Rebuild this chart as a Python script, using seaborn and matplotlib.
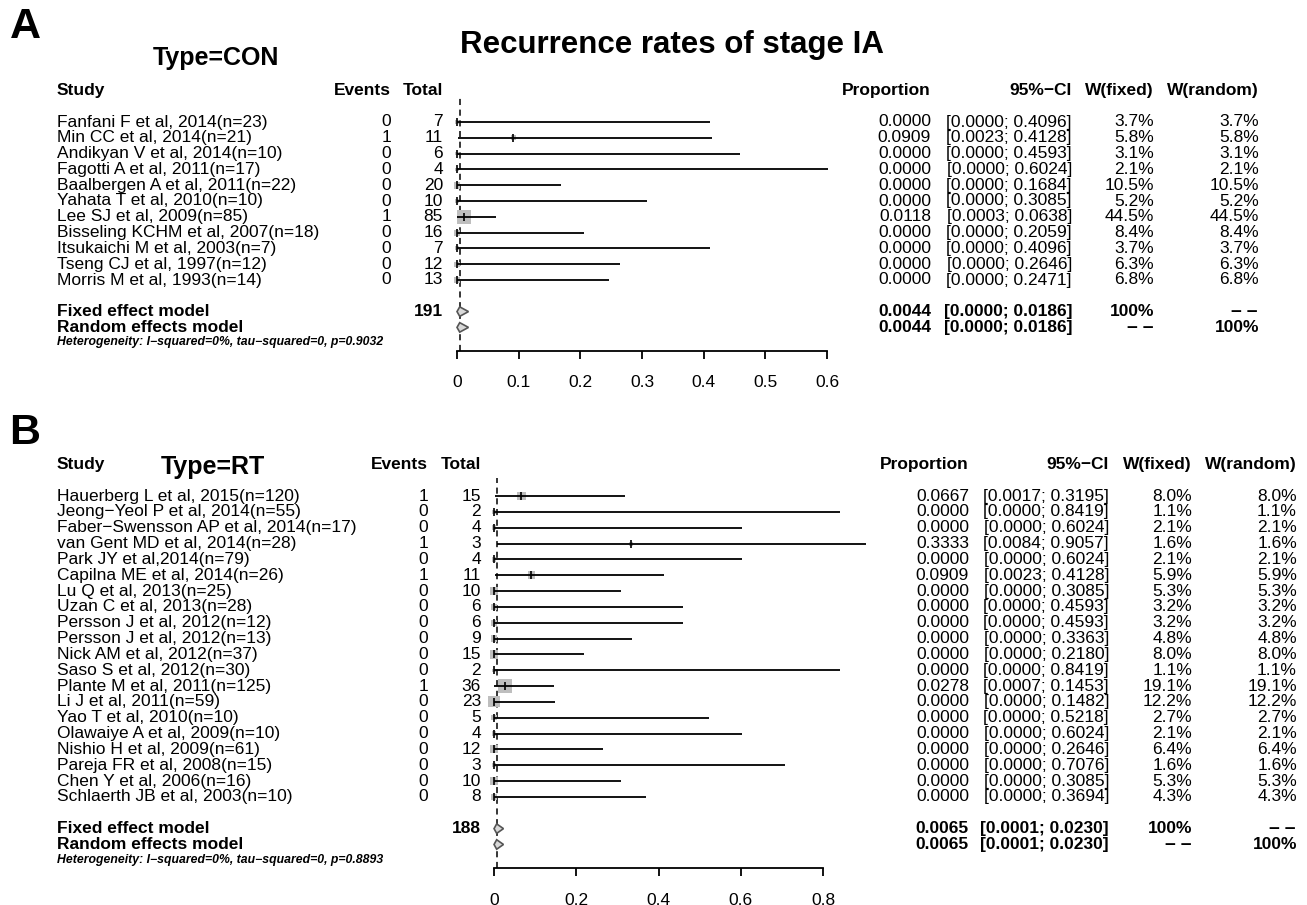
import numpy as np
import pandas as pd
import matplotlib
matplotlib.use('Agg')
import matplotlib.pyplot as plt
import matplotlib.transforms as mtransforms
import seaborn as sns

sns.set_theme(style='white')
plt.rcParams['font.family'] = ['Liberation Sans', 'DejaVu Sans']
plt.rcParams['axes.unicode_minus'] = True
plt.rcParams['text.color'] = 'black'

# ---------------- 数据: A (Type=CON) ----------------
con_study = ['Fanfani F et al, 2014(n=23)', 'Min CC et al, 2014(n=21)', 'Andikyan V et al, 2014(n=10)',
             'Fagotti A et al, 2011(n=17)', 'Baalbergen A et al, 2011(n=22)', 'Yahata T et al, 2010(n=10)',
             'Lee SJ et al, 2009(n=85)', 'Bisseling KCHM et al, 2007(n=18)', 'Itsukaichi M et al, 2003(n=7)',
             'Tseng CJ et al, 1997(n=12)', 'Morris M et al, 1993(n=14)']
con_events = [0, 1, 0, 0, 0, 0, 1, 0, 0, 0, 0]
con_total = [7, 11, 6, 4, 20, 10, 85, 16, 7, 12, 13]
con_prop = [0.0, 0.0909, 0.0, 0.0, 0.0, 0.0, 0.0118, 0.0, 0.0, 0.0, 0.0]
con_lower = [0.0, 0.0023, 0.0, 0.0, 0.0, 0.0, 0.0003, 0.0, 0.0, 0.0, 0.0]
con_upper = [0.4096, 0.4128, 0.4593, 0.6024, 0.1684, 0.3085, 0.0638, 0.2059, 0.4096, 0.2646, 0.2471]
con_wfixed = [3.7, 5.8, 3.1, 2.1, 10.5, 5.2, 44.5, 8.4, 3.7, 6.3, 6.8]
con_wrandom = [3.7, 5.8, 3.1, 2.1, 10.5, 5.2, 44.5, 8.4, 3.7, 6.3, 6.8]
con_pooled = [0.0044, 0.0000, 0.0186]   # est, lower, upper
con_n = 191
con_het = 'Heterogeneity: I\u2212squared=0%, tau\u2212squared=0, p=0.9032'
con_ticks = [0, 0.1, 0.2, 0.3, 0.4, 0.5, 0.6]

# ---------------- 数据: B (Type=RT) ----------------
rt_study = ['Hauerberg L et al, 2015(n=120)', 'Jeong\u2212Yeol P et al, 2014(n=55)',
            'Faber\u2212Swensson AP et al, 2014(n=17)', 'van Gent MD et al, 2014(n=28)',
            'Park JY et al,2014(n=79)', 'Capilna ME et al, 2014(n=26)', 'Lu Q et al, 2013(n=25)',
            'Uzan C et al, 2013(n=28)', 'Persson J et al, 2012(n=12)', 'Persson J et al, 2012(n=13)',
            'Nick AM et al, 2012(n=37)', 'Saso S et al, 2012(n=30)', 'Plante M et al, 2011(n=125)',
            'Li J et al, 2011(n=59)', 'Yao T et al, 2010(n=10)', 'Olawaiye A et al, 2009(n=10)',
            'Nishio H et al, 2009(n=61)', 'Pareja FR et al, 2008(n=15)', 'Chen Y et al, 2006(n=16)',
            'Schlaerth JB et al, 2003(n=10)']
rt_events = [1, 0, 0, 1, 0, 1, 0, 0, 0, 0, 0, 0, 1, 0, 0, 0, 0, 0, 0, 0]
rt_total = [15, 2, 4, 3, 4, 11, 10, 6, 6, 9, 15, 2, 36, 23, 5, 4, 12, 3, 10, 8]
rt_prop = [0.0667, 0.0, 0.0, 0.3333, 0.0, 0.0909, 0.0, 0.0, 0.0, 0.0, 0.0, 0.0, 0.0278, 0.0, 0.0,
           0.0, 0.0, 0.0, 0.0, 0.0]
rt_lower = [0.0017, 0.0, 0.0, 0.0084, 0.0, 0.0023, 0.0, 0.0, 0.0, 0.0, 0.0, 0.0, 0.0007, 0.0, 0.0,
            0.0, 0.0, 0.0, 0.0, 0.0]
rt_upper = [0.3195, 0.8419, 0.6024, 0.9057, 0.6024, 0.4128, 0.3085, 0.4593, 0.4593, 0.3363, 0.2180,
            0.8419, 0.1453, 0.1482, 0.5218, 0.6024, 0.2646, 0.7076, 0.3085, 0.3694]
rt_wfixed = [8.0, 1.1, 2.1, 1.6, 2.1, 5.9, 5.3, 3.2, 3.2, 4.8, 8.0, 1.1, 19.1, 12.2, 2.7, 2.1, 6.4,
             1.6, 5.3, 4.3]
rt_wrandom = [8.0, 1.1, 2.1, 1.6, 2.1, 5.9, 5.3, 3.2, 3.2, 4.8, 8.0, 1.1, 19.1, 12.2, 2.7, 2.1, 6.4,
              1.6, 5.3, 4.3]
rt_pooled = [0.0065, 0.0001, 0.0230]
rt_n = 188
rt_het = 'Heterogeneity: I\u2212squared=0%, tau\u2212squared=0, p=0.8893'
rt_ticks = [0, 0.2, 0.4, 0.6, 0.8]

W, H = 1307, 905
FS = 12.5

fig = plt.figure(figsize=(W / 100, H / 100), dpi=100)
fig.patch.set_facecolor('white')


def draw_panel(df, pooled, n_total, het, ticks, lay):
    k = len(df)
    fixed_i, random_i = k + 1, k + 2
    het_i = random_i + 1
    axis_i = het_i + 0.5
    top_i = lay['dash_top']
    row0, step = lay['row0'], lay['step']
    top_px = row0 + step * top_i
    bot_px = row0 + step * axis_i
    ax = fig.add_axes([lay['x0'] / W, 1 - bot_px / H, (lay['x1'] - lay['x0']) / W, (bot_px - top_px) / H])
    ax.set_facecolor('none')
    ax.set_xlim(0, ticks[-1])
    ax.set_ylim(axis_i, top_i)
    df = df.copy()
    df['y'] = np.arange(k)

    # 置信区间
    ax.hlines(df['y'], df['lower'], df['upper'], color='black', lw=1.3, clip_on=False, zorder=2)
    # 权重方块
    sns.scatterplot(data=df, x='prop', y='y', size='wfixed', sizes=(0, 100),
                    size_norm=(0, df['wfixed'].max()), marker='s', color='#BEBEBE',
                    linewidth=0, legend=False, ax=ax, zorder=1, clip_on=False)
    sns.scatterplot(data=df, x='prop', y='y', marker='|', s=28, color='black',
                    linewidth=1.2, legend=False, ax=ax, zorder=3, clip_on=False)
    # 合并效应菱形
    est, lo, hi = pooled
    for yy in (fixed_i, random_i):
        ax.fill([lo, est, hi, est], [yy, yy - 0.3, yy, yy + 0.3], facecolor='#D9D9D9',
                edgecolor='#555555', lw=1.2, clip_on=False, zorder=3)
    ax.axvline(est, color='black', lw=1.1, ls=(0, (4, 3)), zorder=0)

    for sp in ['top', 'left', 'right']:
        ax.spines[sp].set_visible(False)
    ax.spines['bottom'].set_linewidth(1.3)
    ax.spines['bottom'].set_color('black')
    ax.set_xticks(ticks)
    ax.set_xticklabels([f'{t:g}' for t in ticks], fontsize=FS)
    ax.tick_params(axis='x', direction='out', length=5.5, width=1.3, pad=12, bottom=True, colors='black')
    ax.set_yticks([])
    ax.set_xlabel('')
    ax.set_ylabel('')

    tr = mtransforms.blended_transform_factory(fig.transFigure, ax.transData)
    c = lay['cols']

    def put(px, y, s, ha='right', **kw):
        ax.text(px / W, y, s, transform=tr, ha=ha, va='center', fontsize=kw.pop('fs', FS),
                color='black', clip_on=False, **kw)

    # 表头
    hy = -2
    put(c['study'], hy, 'Study', ha='left', fontweight='bold')
    put(c['events'], hy, 'Events', fontweight='bold')
    put(c['total'], hy, 'Total', fontweight='bold')
    put(c['prop'], hy, 'Proportion', fontweight='bold')
    put(c['ci'], hy, '95%\u2212CI', fontweight='bold')
    put(c['wf'], hy, 'W(fixed)', fontweight='bold')
    put(c['wr'], hy, 'W(random)', fontweight='bold')

    for _, r in df.iterrows():
        y = r['y']
        put(c['study'], y, r['study'], ha='left')
        put(c['events'], y, f"{int(r['events'])}")
        put(c['total'], y, f"{int(r['total'])}")
        put(c['prop'], y, f"{r['prop']:.4f}")
        put(c['ci'], y, f"[{r['lower']:.4f}; {r['upper']:.4f}]")
        put(c['wf'], y, f"{r['wfixed']:.1f}%")
        put(c['wr'], y, f"{r['wrandom']:.1f}%")

    put(c['study'], fixed_i, 'Fixed effect model', ha='left', fontweight='bold')
    put(c['study'], random_i, 'Random effects model', ha='left', fontweight='bold')
    put(c['total'], fixed_i, str(n_total), fontweight='bold')
    for yy in (fixed_i, random_i):
        put(c['prop'], yy, f'{est:.4f}', fontweight='bold')
        put(c['ci'], yy, f'[{lo:.4f}; {hi:.4f}]', fontweight='bold')
    put(c['wf'], fixed_i, '100%', fontweight='bold')
    put(c['wr'], fixed_i, '\u2212\u2009\u2212', fontweight='bold', family=['DejaVu Sans'], fs=11)
    put(c['wf'], random_i, '\u2212\u2009\u2212', fontweight='bold', family=['DejaVu Sans'], fs=11)
    put(c['wr'], random_i, '100%', fontweight='bold')
    put(c['study'], het_i - 0.05, het, ha='left', fontweight='bold', fontstyle='italic', fs=8.8)
    return ax


con_df = pd.DataFrame({'study': con_study, 'events': con_events, 'total': con_total, 'prop': con_prop,
                       'lower': con_lower, 'upper': con_upper, 'wfixed': con_wfixed, 'wrandom': con_wrandom})
rt_df = pd.DataFrame({'study': rt_study, 'events': rt_events, 'total': rt_total, 'prop': rt_prop,
                      'lower': rt_lower, 'upper': rt_upper, 'wfixed': rt_wfixed, 'wrandom': rt_wrandom})

lay_a = dict(row0=122, step=15.8, dash_top=-1.58, x0=457, x1=827,
             cols=dict(study=57, events=391, total=443, prop=931, ci=1072, wf=1154, wr=1259))
lay_b = dict(row0=496, step=15.84, dash_top=-1.15, x0=494, x1=823,
             cols=dict(study=57, events=428, total=481, prop=969, ci=1109, wf=1192, wr=1297))

draw_panel(con_df, con_pooled, con_n, con_het, con_ticks, lay_a)
draw_panel(rt_df, rt_pooled, rt_n, rt_het, rt_ticks, lay_b)

# 标题
fig.text(25 / W, 1 - 27 / H, 'A', fontsize=31, fontweight='bold', ha='center', va='center', color='black')
fig.text(25 / W, 1 - 433 / H, 'B', fontsize=31, fontweight='bold', ha='center', va='center', color='black')
fig.text(216 / W, 1 - 58 / H, 'Type=CON', fontsize=18, fontweight='bold', ha='center', va='center',
         color='black')
fig.text(213 / W, 1 - 467 / H, 'Type=RT', fontsize=18, fontweight='bold', ha='center', va='center',
         color='black')
fig.text(672 / W, 1 - 45 / H, 'Recurrence rates of stage IA', fontsize=22.5, fontweight='bold',
         ha='center', va='center', color='black')

fig.savefig('out.png', dpi=100, facecolor='white')
